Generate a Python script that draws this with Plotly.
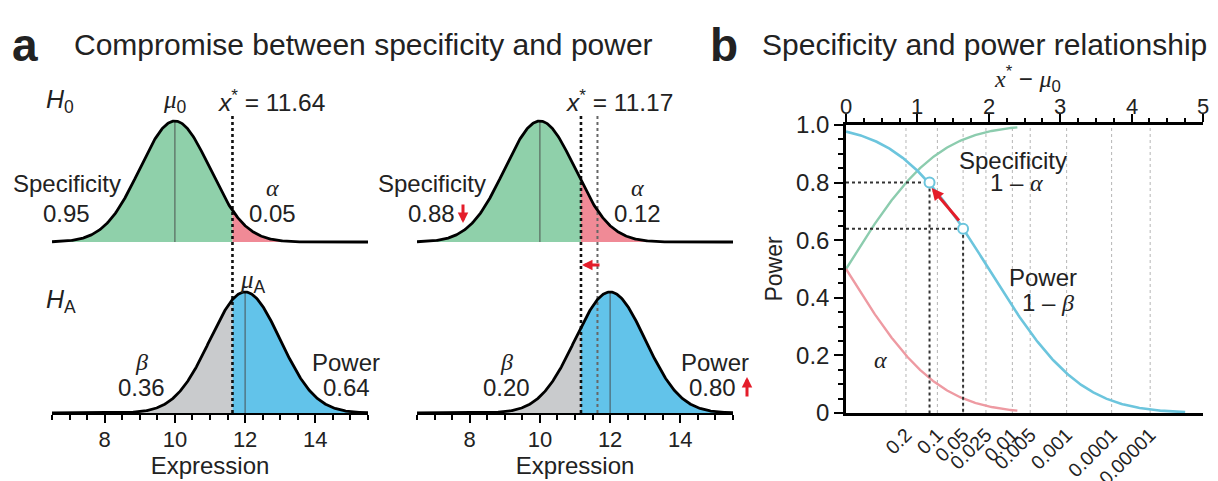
import math
import numpy as np
import plotly.graph_objects as go

# ---------------- data ----------------
mu0 = 10.0            # mean under H0
muA = 12.0            # mean under HA
sigma = 1.0
xstar_left = 11.64    # cutoff, panel a left
xstar_right = 11.17   # cutoff, panel a right
spec_vals = ["0.95", "0.88"]
alpha_vals = ["0.05", "0.12"]
beta_vals = ["0.36", "0.20"]
power_vals = ["0.64", "0.80"]
expr_ticks = [8, 10, 12, 14]
expr_range = [6.5, 15.5]

alpha_labels = ["0.2", "0.1", "0.05", "0.025", "0.01", "0.005", "0.001", "0.0001", "0.00001"]
alpha_cut_pos = [0.84, 1.28, 1.64, 1.96, 2.33, 2.58, 3.09, 3.72, 4.26]
shift_ticks = [0, 1, 2, 3, 4, 5]
power_ticks = [0, 0.2, 0.4, 0.6, 0.8, 1.0]
power_ticklabels = ["0", "0.2", "0.4", "0.6", "0.8", "1.0"]
point_shift = [1.64, 1.17]
point_power = [0.64, 0.80]

# ---------------- style ----------------
FONT = "Liberation Sans, Arial, sans-serif"
SERIF = "Liberation Serif, Times New Roman, serif"
GREEN_F = "#8fd0aa"
RED_F = "#f08a96"
GRAY_F = "#c9cbcd"
BLUE_F = "#62c3ea"
GREEN_L = "#8cccae"
BLUE_L = "#6cc5dd"
RED_L = "#ee9aa2"
ARROW_RED = "#e41d2a"
OFF = 0.5638     # vertical offset of the H0 curve inside a column
DOT_TOP = 0.979


def g(s):
    return f'<span style="font-family:{SERIF}"><i>{s}</i></span>'


def pdf(x, mu):
    return np.exp(-0.5 * ((x - mu) / sigma) ** 2) / (sigma * math.sqrt(2 * math.pi))


ncdf = np.vectorize(lambda z: 0.5 * (1 + math.erf(z / math.sqrt(2))))

fig = go.Figure()


def fill_region(xa, ya, a, b, mu, base, color):
    xs = np.linspace(a, b, 200)
    ys = base + pdf(xs, mu)
    px = list(xs) + [b, a]
    py_ = list(ys) + [base, base]
    fig.add_trace(go.Scatter(x=px, y=py_, xaxis=xa, yaxis=ya, mode="lines",
                             fill="toself", fillcolor=color, line=dict(width=0),
                             hoverinfo="skip"))


def column(xa, ya, xstar, extra_dotted=None):
    lo, hi = expr_range
    fill_region(xa, ya, lo, xstar, mu0, OFF, GREEN_F)
    fill_region(xa, ya, xstar, hi, mu0, OFF, RED_F)
    fill_region(xa, ya, lo, xstar, muA, 0, GRAY_F)
    fill_region(xa, ya, xstar, hi, muA, 0, BLUE_F)
    fig.add_trace(go.Scatter(x=[mu0, mu0, None, muA, muA],
                             y=[OFF, OFF + pdf(mu0, mu0), None, 0, pdf(muA, muA)],
                             xaxis=xa, yaxis=ya, mode="lines",
                             line=dict(color="rgba(70,70,70,0.75)", width=1.2),
                             hoverinfo="skip"))
    if extra_dotted is not None:
        fig.add_trace(go.Scatter(x=[extra_dotted, extra_dotted], y=[0, DOT_TOP],
                                 xaxis=xa, yaxis=ya, mode="lines",
                                 line=dict(color="#666666", width=2, dash="dot"),
                                 hoverinfo="skip"))
    fig.add_trace(go.Scatter(x=[xstar, xstar], y=[0, DOT_TOP],
                             xaxis=xa, yaxis=ya, mode="lines",
                             line=dict(color="#111111", width=2.6, dash="dot"),
                             hoverinfo="skip"))
    xs = np.linspace(lo, hi, 500)
    fig.add_trace(go.Scatter(x=xs, y=OFF + pdf(xs, mu0), xaxis=xa, yaxis=ya,
                             mode="lines", line=dict(color="black", width=2.8),
                             hoverinfo="skip"))
    fig.add_trace(go.Scatter(x=xs, y=pdf(xs, muA), xaxis=xa, yaxis=ya,
                             mode="lines", line=dict(color="black", width=2.8),
                             hoverinfo="skip"))


column("x", "y", xstar_left)
column("x2", "y2", xstar_right, extra_dotted=xstar_left)

# ---------------- panel b ----------------
vx, vy = [], []
for p in alpha_cut_pos:
    vx += [p, p, None]
    vy += [0, 1, None]
fig.add_trace(go.Scatter(x=vx, y=vy, xaxis="x3", yaxis="y3", mode="lines",
                         line=dict(color="#b5b5b5", width=1, dash="dot"),
                         hoverinfo="skip"))

d_short = np.linspace(0, 2.4, 200)
d_long = np.linspace(0, 4.75, 300)
fig.add_trace(go.Scatter(x=d_short, y=ncdf(d_short), xaxis="x3", yaxis="y3",
                         mode="lines", line=dict(color=GREEN_L, width=2.4), hoverinfo="skip"))
fig.add_trace(go.Scatter(x=d_short, y=1 - ncdf(d_short), xaxis="x3", yaxis="y3",
                         mode="lines", line=dict(color=RED_L, width=2.4), hoverinfo="skip"))
fig.add_trace(go.Scatter(x=d_long, y=1 - ncdf(d_long - (muA - mu0)), xaxis="x3", yaxis="y3",
                         mode="lines", line=dict(color=BLUE_L, width=2.6), hoverinfo="skip"))

gx, gy = [], []
for sx, sp in zip(point_shift, point_power):
    gx += [0, sx, None, sx, sx, None]
    gy += [sp, sp, None, sp, 0, None]
fig.add_trace(go.Scatter(x=gx, y=gy, xaxis="x3", yaxis="y3", mode="lines",
                         line=dict(color="#333333", width=2, dash="dot"), hoverinfo="skip"))
fig.add_trace(go.Scatter(x=point_shift, y=point_power, xaxis="x3", yaxis="y3",
                         mode="markers",
                         marker=dict(size=10, color="white", line=dict(color=BLUE_L, width=2)),
                         hoverinfo="skip"))
# invisible trace so the top axis is drawn
fig.add_trace(go.Scatter(x=shift_ticks, y=[None] * len(shift_ticks), xaxis="x4", yaxis="y3",
                         mode="markers", marker=dict(opacity=0), hoverinfo="skip"))

# ---------------- axes ----------------
colA = [52 / 1218, 368 / 1218]
colB = [417 / 1218, 733 / 1218]
ydomA = [(481 - 413) / 481, (481 - 100) / 481]
bX = [846 / 1218, 1203 / 1218]
bY = [(481 - 413) / 481, (481 - 125) / 481]

expr_axis = dict(range=expr_range, tickvals=expr_ticks, ticks="outside", ticklen=8,
                 tickwidth=2, tickcolor="black", showline=True, linewidth=2,
                 linecolor="black", showgrid=False, zeroline=False, automargin=False,
                 ticklabelstandoff=-2,
                 tickfont=dict(family=FONT, size=22, color="#222"),
                 minor=dict(dtick=0.5, tick0=0, ticks="outside", ticklen=5,
                            tickwidth=2, tickcolor="black"),
                 title=dict(text="Expression", font=dict(family=FONT, size=24, color="#222"),
                            standoff=2))
hidden_y = dict(range=[0, 1.032], visible=False, showgrid=False, zeroline=False,
                automargin=False)

fig.update_layout(
    width=1218, height=481, margin=dict(l=0, r=0, t=0, b=0, autoexpand=False),
    paper_bgcolor="white", plot_bgcolor="white", showlegend=False,
    font=dict(family=FONT, color="#222"),
    xaxis=dict(domain=colA, anchor="y", **expr_axis),
    yaxis=dict(domain=ydomA, anchor="x", **hidden_y),
    xaxis2=dict(domain=colB, anchor="y2", **expr_axis),
    yaxis2=dict(domain=ydomA, anchor="x2", **hidden_y),
    xaxis3=dict(domain=bX, anchor="y3", range=[0, 5], tickvals=alpha_cut_pos,
                ticktext=alpha_labels, tickangle=-45, ticks="", showline=True,
                linewidth=2.5, linecolor="black", showgrid=False, zeroline=False,
                automargin=False,
                tickfont=dict(family=FONT, size=19.5, color="#222")),
    xaxis4=dict(domain=bX, anchor="y3", overlaying="x3", side="top", range=[0, 5],
                tickvals=shift_ticks, ticks="outside", ticklen=8, tickwidth=2,
                tickcolor="black", showline=True, linewidth=2.5, linecolor="black",
                showgrid=False, zeroline=False, automargin=False,
                showticklabels=False,
                minor=dict(dtick=0.25, tick0=0, ticks="outside", ticklen=4,
                           tickwidth=2, tickcolor="black")),
    yaxis3=dict(domain=bY, anchor="x3", range=[0, 1], tickvals=power_ticks,
                ticktext=power_ticklabels, ticks="outside", ticklen=9, tickwidth=2,
                tickcolor="black", showline=True, linewidth=2.5, linecolor="black",
                showgrid=False, zeroline=False, automargin=False,
                tickfont=dict(family=FONT, size=24, color="#222"),
                minor=dict(dtick=0.05, tick0=0, ticks="outside", ticklen=5,
                           tickwidth=2, tickcolor="black"),
                title=dict(text="Power", font=dict(family=FONT, size=23, color="#222"),
                           standoff=8)),
)

# ---------------- annotations ----------------
ann = []


def txt(xref, yref, x, y, text, size=24, xanchor="center", yanchor="middle"):
    ann.append(dict(xref=xref, yref=yref, x=x, y=y, text=text, showarrow=False,
                    xanchor=xanchor, yanchor=yanchor,
                    font=dict(family=FONT, size=size, color="#222")))


def py(p):  # pixel row -> column y coordinate
    return (413 - p) / 303.3


def pp(p):  # pixel row -> paper y
    return (481 - p) / 481


def arrow(xp, yp, axp, ayp, size=0.75, width=3):
    ann.append(dict(xref="paper", yref="paper", x=xp / 1218, y=pp(yp), ax=axp - xp,
                    ay=ayp - yp, showarrow=True, arrowhead=2, arrowsize=size,
                    arrowwidth=width, arrowcolor=ARROW_RED, text=""))


# panel titles
txt("paper", "paper", 10 / 1218, pp(45), "<b>a</b>", size=46, xanchor="left")
txt("paper", "paper", 72 / 1218, pp(44),
    "Compromise between specificity and power", size=30, xanchor="left")
txt("paper", "paper", 708 / 1218, pp(45), "<b>b</b>", size=46, xanchor="left")
txt("paper", "paper", 760 / 1218, pp(44),
    "Specificity and power relationship", size=30, xanchor="left")

# hypothesis labels
txt("paper", "paper", 44 / 1218, pp(101), "<i>H</i><sub>0</sub>", size=25, xanchor="left")
txt("paper", "paper", 44 / 1218, pp(301), "<i>H</i><sub>A</sub>", size=25, xanchor="left")

for xa, ya, xstar, k in (("x", "y", xstar_left, 0), ("x2", "y2", xstar_right, 1)):
    if k == 0:
        txt(xa, ya, mu0, py(101), f"{g('μ')}<sub>0</sub>", size=25)
        txt(xa, ya, 11.8, py(281), f"{g('μ')}<sub>A</sub>", size=25, xanchor="left")
    txt(xa, ya, xstar - 0.47, py(100), f"<i>x</i><sup>*</sup> = {xstar:.2f}", size=24.5,
        xanchor="left")
    txt(xa, ya, 6.92, py(183), "Specificity")
    txt(xa, ya, 6.92, py(213), spec_vals[k])
    txt(xa, ya, 12.78, py(188), g("α"))
    txt(xa, ya, 12.78, py(213), alpha_vals[k])
    txt(xa, ya, 9.05, py(362), g("β"))
    txt(xa, ya, 9.05, py(387), beta_vals[k])
    txt(xa, ya, 14.88 if k == 0 else 15.0, py(362), "Power")
    txt(xa, ya, 14.88 if k == 0 else 14.92, py(387), power_vals[k])

# red arrows in panel a (right column)
arrow(463, 223, 463, 203, size=0.7, width=3)
arrow(747, 377, 747, 398, size=0.7, width=3)
arrow(582, 265, 601, 265, size=0.7, width=3)

# panel b labels
txt("paper", "paper", 1027 / 1218, pp(79),
    f"{g('x')}<sup>*</sup> − {g('μ')}<sub>0</sub>", size=24)
for t in shift_ticks:
    txt("x4", "paper", t, pp(106), str(t), size=22)
txt("x3", "y3", 2.34, 0.878, "Specificity")
txt("x3", "y3", 2.39, 0.799, f"1 – {g('α')}")
txt("x3", "y3", 2.76, 0.469, "Power")
txt("x3", "y3", 2.83, 0.385, f"1 – {g('β')}")
txt("x3", "y3", 0.48, 0.184, g("α"))
txt("paper", "paper", 1027 / 1218, pp(493), g("α"), size=24)
ann.append(dict(xref="x3", yref="y3", x=1.2, y=0.781, axref="x3", ayref="y3",
                ax=1.60, ay=0.663, showarrow=True, arrowhead=2, arrowsize=0.8,
                arrowwidth=3, arrowcolor=ARROW_RED, text=""))

fig.update_layout(annotations=ann)
fig.write_html("out.html")
